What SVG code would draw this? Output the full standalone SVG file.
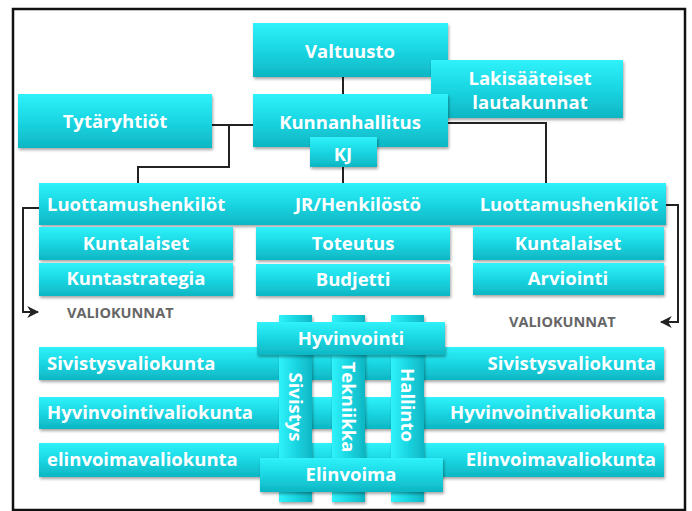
<svg xmlns="http://www.w3.org/2000/svg" width="692" height="511" viewBox="0 0 692 511">
<defs>
<linearGradient id="gv" x1="0" y1="0" x2="0" y2="1">
<stop offset="0" stop-color="#2ff2fa"/>
<stop offset="0.5" stop-color="#1ad6e2"/>
<stop offset="1" stop-color="#0eb6c3"/>
</linearGradient>
<linearGradient id="gh" x1="0" y1="0" x2="1" y2="0">
<stop offset="0" stop-color="#2ff2fa"/>
<stop offset="0.5" stop-color="#1ad6e2"/>
<stop offset="1" stop-color="#0eb6c3"/>
</linearGradient>
<filter id="sh" x="-10%" y="-20%" width="120%" height="150%">
<feDropShadow dx="1" dy="2" stdDeviation="1.5" flood-color="#000" flood-opacity="0.35"/>
</filter>
<marker id="ar" viewBox="0 0 10 10" refX="9" refY="5" markerWidth="6" markerHeight="6" orient="auto">
<path d="M0,0 L10,5 L0,10 L3,5 Z" fill="#222"/>
</marker>
</defs>
<style>
.b{fill:url(#gv);filter:url(#sh)}
.v{fill:url(#gh);filter:url(#sh)}
.t{font-family:"Open Sans",Lato,sans-serif;font-weight:700;font-size:18.5px;fill:#fff}
.c{text-anchor:middle}
.r{text-anchor:end}
.g{font-family:"Open Sans",Lato,sans-serif;font-weight:700;font-size:14.5px;fill:#666}
.ln{fill:none;stroke:#222;stroke-width:2}
</style>
<rect x="0" y="0" width="692" height="511" fill="#fff"/>
<rect x="13" y="9" width="672" height="501" fill="none" stroke="#111" stroke-width="2.5"/>

<g id="connectors">
<path class="ln" d="M343,77 V94"/>
<path class="ln" d="M212,125 H253"/>
<path class="ln" d="M229,125 V167 H138 V183"/>
<path class="ln" d="M448,123 H546 V183"/>
<path class="ln" d="M343,167 V183"/>
<path class="ln" d="M39,208 H23 V312 H38" marker-end="url(#ar)"/>
<path class="ln" d="M666,205 H678 V322 H661" marker-end="url(#ar)"/>
</g>

<g id="valtuusto"><rect class="b" x="253" y="23" width="195" height="54"/><text class="t c" x="350" y="58">Valtuusto</text></g>
<g id="lakisaateiset"><rect class="b" x="431" y="60" width="192" height="58"/><text class="t c" x="530" y="85">Lakisääteiset</text><text class="t c" x="530" y="109">lautakunnat</text></g>
<g id="kunnanhallitus"><rect class="b" x="253" y="94" width="195" height="53"/><text class="t c" x="350" y="129">Kunnanhallitus</text></g>
<g id="kj"><rect class="b" x="310" y="137" width="67" height="30"/><text class="t c" x="343" y="161">KJ</text></g>
<g id="tytaryhtiot"><rect class="b" x="18" y="94" width="194" height="54"/><text class="t c" x="115" y="128">Tytäryhtiöt</text></g>

<g id="paataso"><rect class="b" x="39" y="183" width="627" height="42"/>
<text class="t" x="47" y="211">Luottamushenkilöt</text>
<text class="t c" x="358" y="211">JR/Henkilöstö</text>
<text class="t r" x="658" y="211">Luottamushenkilöt</text></g>

<g id="kuntalaiset-vasen"><rect class="b" x="39" y="227" width="194" height="33"/><text class="t c" x="136" y="250">Kuntalaiset</text></g>
<g id="kuntastrategia"><rect class="b" x="39" y="263" width="194" height="33"/><text class="t c" x="136" y="285">Kuntastrategia</text></g>
<g id="toteutus"><rect class="b" x="256" y="227" width="194" height="33"/><text class="t c" x="353" y="250">Toteutus</text></g>
<g id="budjetti"><rect class="b" x="256" y="264" width="194" height="32"/><text class="t c" x="353" y="286">Budjetti</text></g>
<g id="kuntalaiset-oikea"><rect class="b" x="473" y="227" width="191" height="33"/><text class="t c" x="568" y="250">Kuntalaiset</text></g>
<g id="arviointi"><rect class="b" x="473" y="263" width="191" height="32"/><text class="t c" x="568" y="285">Arviointi</text></g>

<g id="valiokunnat-vasen"><text class="g" x="67" y="318">VALIOKUNNAT</text></g>
<g id="valiokunnat-oikea"><text class="g" x="509" y="327">VALIOKUNNAT</text></g>

<g id="sivistysvaliokunta"><rect class="b" x="39" y="347" width="625" height="33"/><text class="t" x="47" y="370">Sivistysvaliokunta</text><text class="t r" x="656" y="370">Sivistysvaliokunta</text></g>
<g id="hyvinvointivaliokunta"><rect class="b" x="39" y="397" width="625" height="32"/><text class="t" x="47" y="419">Hyvinvointivaliokunta</text><text class="t r" x="656" y="419">Hyvinvointivaliokunta</text></g>
<g id="elinvoimavaliokunta"><rect class="b" x="39" y="443" width="625" height="34"/><text class="t" x="47" y="466">elinvoimavaliokunta</text><text class="t r" x="656" y="466">Elinvoimavaliokunta</text></g>

<g id="sivistys"><rect class="v" x="279" y="315" width="33" height="187"/><text class="t c" transform="translate(289,407) rotate(90)">Sivistys</text></g>
<g id="tekniikka"><rect class="v" x="332" y="315" width="33" height="187"/><text class="t c" transform="translate(342,407) rotate(90)">Tekniikka</text></g>
<g id="hallinto"><rect class="v" x="391" y="315" width="33" height="187"/><text class="t c" transform="translate(401,405) rotate(90)">Hallinto</text></g>

<g id="hyvinvointi"><rect class="b" x="257" y="322" width="188" height="33"/><text class="t c" x="351" y="345">Hyvinvointi</text></g>
<g id="elinvoima"><rect class="b" x="260" y="458" width="183" height="34"/><text class="t c" x="351" y="481">Elinvoima</text></g>
</svg>
